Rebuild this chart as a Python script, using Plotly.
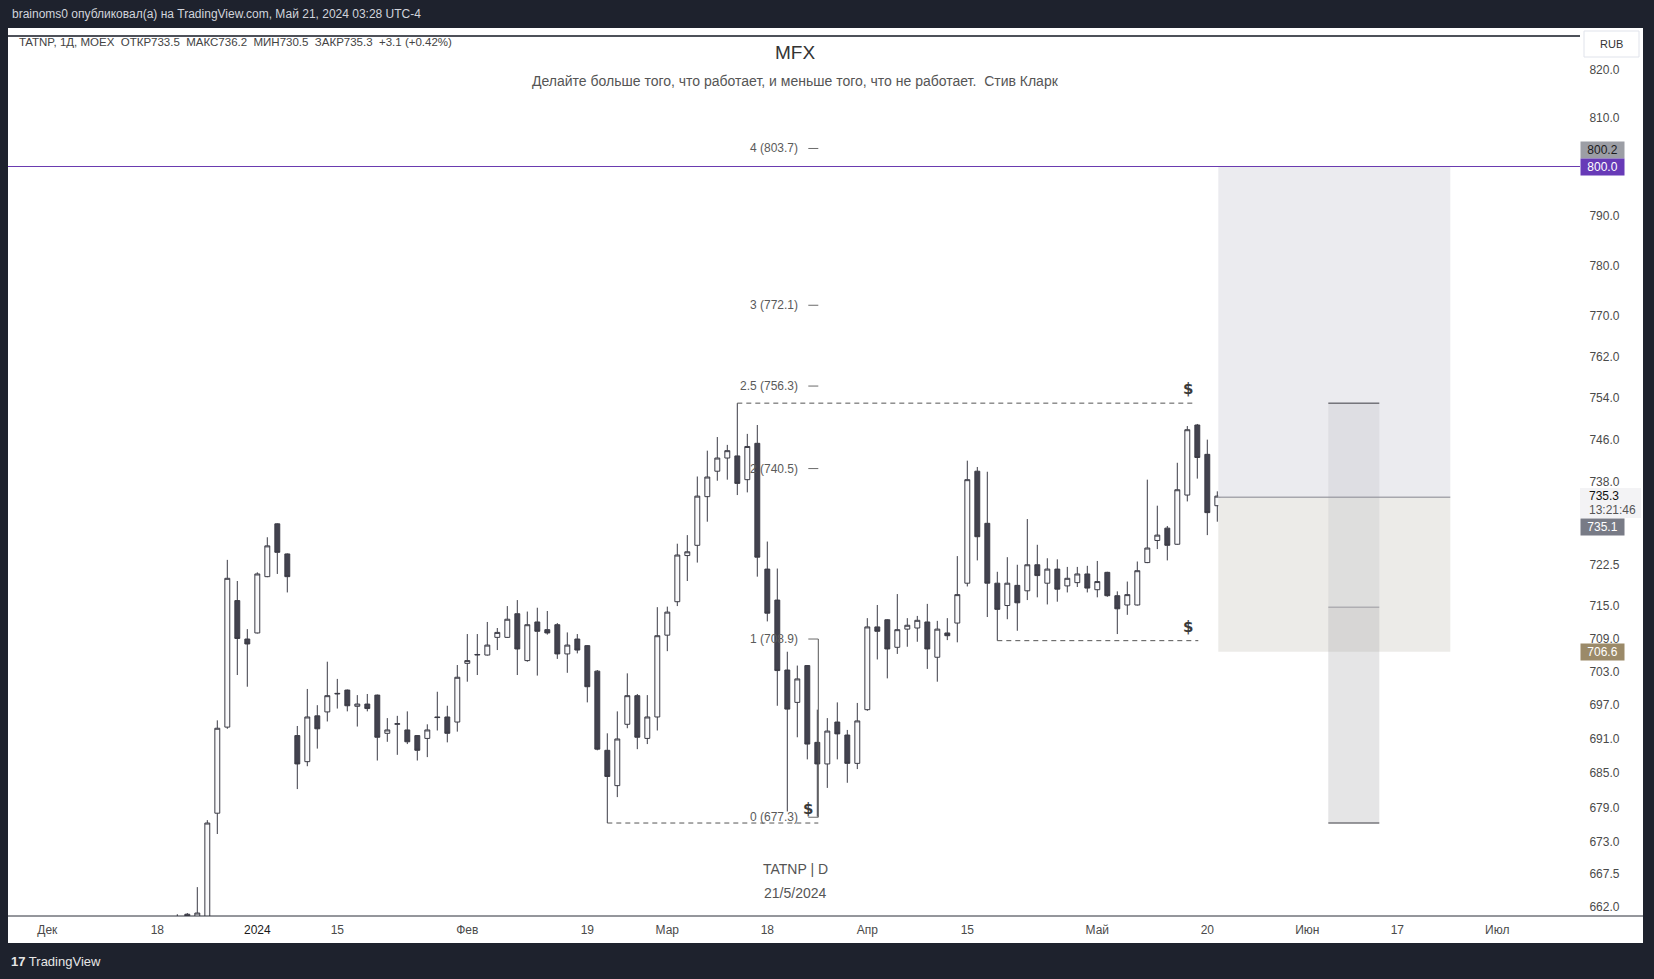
import math
import pandas as pd
import plotly.graph_objects as go

# ---------------- calendar (MOEX sessions, used as bar positions) ----------------
calendar_start = "2023-12-01"
calendar_end = "2024-07-31"
holidays = ["2024-01-01", "2024-01-02", "2024-02-23", "2024-03-08",
            "2024-05-01", "2024-05-09", "2024-06-12"]
extra_sessions = ["2024-04-27"]

first_candle = "2023-12-20"
last_candle = "2024-05-21"

# ---------------- OHLC (TATNP, 1D) ----------------
open_ = [654.0, 660.7, 655.5, 658.0, 678.0, 693.1, 715.9, 708.9, 710.0, 720.3,
         730.1, 724.5, 691.6, 687.0, 695.1, 695.8, 699.0, 699.7, 696.8, 697.2,
         698.8, 692.0, 693.6, 692.6, 691.6, 691.1, 694.9, 694.9, 694.0, 704.5,
         706.0, 706.0, 709.2, 709.2, 713.5, 705.0, 712.0, 710.6, 711.5, 706.2,
         708.9, 707.7, 703.1, 689.0, 682.8, 693.6, 698.7, 691.1, 694.9, 709.6,
         715.7, 724.2, 726.1, 735.2, 740.0, 742.5, 742.9, 738.4, 745.3, 721.7,
         716.0, 703.3, 697.5, 704.1, 690.4, 686.6, 694.0, 691.7, 686.7, 696.2,
         711.1, 712.4, 707.4, 710.7, 710.9, 712.0, 705.6, 710.0, 711.8, 719.1,
         740.0, 730.2, 719.1, 715.0, 718.7, 717.7, 722.5, 719.1, 721.7, 718.6,
         719.2, 720.8, 717.9, 721.1, 716.8, 715.1, 715.1, 722.9, 727.0, 729.3,
         726.3, 735.5, 748.8, 743.2, 733.5]
high = [660.7, 660.9, 665.3, 676.8, 694.3, 723.4, 719.5, 710.7, 721.1, 727.6,
        730.2, 724.6, 693.3, 699.9, 697.0, 704.8, 701.7, 699.8, 698.8, 699.0,
        698.9, 694.7, 695.1, 695.9, 691.7, 693.6, 699.4, 696.9, 704.2, 709.8,
        709.8, 712.0, 710.9, 714.9, 716.0, 713.9, 714.6, 714.0, 711.8, 710.1,
        709.8, 707.8, 703.3, 692.0, 695.9, 702.7, 699.0, 698.8, 714.7, 714.8,
        726.4, 728.0, 739.0, 743.9, 746.5, 745.0, 753.0, 747.1, 748.8, 726.8,
        721.8, 706.6, 704.1, 704.2, 696.2, 694.7, 697.5, 692.6, 697.4, 712.7,
        715.1, 712.5, 717.1, 712.7, 713.1, 715.3, 712.2, 712.7, 724.1, 742.0,
        740.8, 739.9, 721.2, 723.9, 722.5, 731.0, 726.2, 723.7, 723.5, 722.1,
        722.1, 722.3, 723.2, 721.2, 717.6, 719.4, 723.1, 738.4, 733.5, 729.7,
        741.6, 748.6, 749.0, 746.0, 736.2]
low = [651.0, 652.0, 654.0, 657.0, 674.4, 692.8, 702.4, 700.3, 709.9, 720.2,
       720.8, 717.4, 682.2, 686.2, 689.3, 694.1, 696.4, 695.9, 693.2, 695.9,
       687.2, 690.5, 688.2, 690.1, 687.2, 687.8, 692.5, 690.4, 692.3, 701.2,
       702.4, 705.9, 706.9, 709.1, 702.4, 704.8, 702.3, 709.7, 705.3, 702.8,
       706.3, 697.5, 689.0, 676.3, 680.8, 692.9, 689.2, 690.1, 692.5, 706.7,
       714.9, 719.5, 722.9, 730.5, 738.2, 738.4, 735.5, 736.0, 720.3, 712.1,
       696.9, 678.3, 691.3, 687.4, 677.4, 682.4, 687.4, 683.3, 685.7, 696.0,
       705.2, 701.8, 706.2, 707.5, 708.4, 703.5, 701.2, 708.7, 708.3, 718.5,
       723.3, 712.9, 708.6, 712.5, 710.4, 716.0, 716.5, 715.2, 715.7, 717.4,
       718.4, 717.4, 716.5, 716.6, 709.8, 713.3, 715.0, 722.8, 725.4, 723.3,
       726.2, 734.3, 738.6, 728.0, 730.5]
close = [656.0, 655.0, 660.9, 676.3, 692.9, 720.0, 709.0, 708.0, 720.8, 726.0,
         724.8, 720.3, 686.6, 694.9, 692.8, 698.7, 699.1, 696.9, 697.2, 696.4,
         691.3, 692.6, 693.7, 690.5, 689.0, 692.6, 694.8, 692.0, 702.0, 705.0,
         706.1, 707.8, 710.1, 712.5, 707.1, 711.5, 710.3, 710.0, 706.2, 707.8,
         706.9, 700.3, 689.2, 684.4, 691.0, 698.7, 691.3, 694.9, 709.5, 713.8,
         724.3, 724.9, 735.3, 738.9, 742.5, 743.9, 737.7, 744.7, 723.9, 713.6,
         703.2, 696.3, 701.7, 690.1, 686.6, 692.4, 691.9, 686.7, 694.2, 711.1,
         710.3, 707.1, 710.6, 711.4, 712.3, 707.1, 710.7, 709.5, 717.0, 738.4,
         727.7, 719.1, 714.3, 719.1, 715.5, 722.5, 720.5, 721.7, 718.0, 720.0,
         720.8, 718.2, 719.4, 716.8, 714.4, 717.0, 721.4, 725.6, 728.0, 726.1,
         736.5, 747.9, 742.6, 732.2, 735.3]

# ---------------- axis ticks ----------------
x_tick_dates = ["2023-12-01", "2023-12-18", "2024-01-03", "2024-01-15", "2024-02-01",
                "2024-02-19", "2024-03-01", "2024-03-18", "2024-04-01", "2024-04-15",
                "2024-05-02", "2024-05-20", "2024-06-03", "2024-06-17", "2024-07-01"]
x_tick_labels = ["Дек", "18", "2024", "15", "Фев", "19", "Мар", "18", "Апр", "15",
                 "Май", "20", "Июн", "17", "Июл"]
y_tick_values = [820.0, 810.0, 790.0, 780.0, 770.0, 762.0, 754.0, 746.0, 738.0, 722.5,
                 715.0, 709.0, 703.0, 697.0, 691.0, 685.0, 679.0, 673.0, 667.5, 662.0]

# ---------------- drawings ----------------
fib_levels = ["0", "1", "2", "2.5", "3", "4"]
fib_prices = [677.3, 708.9, 740.5, 756.3, 772.1, 803.7]
hline_price = 800.0
target_price, entry_price, stop_price = 800.0, 735.1, 706.6
liq_high_price = 753.0
liq_low_left_price = 676.3
liq_low_right_price = 708.6
range_top, range_mid, range_bot = 753.0, 714.7, 676.3

legend_text = "TATNP, 1Д, MOEX  ОТКР733.5  МАКС736.2  МИН730.5  ЗАКР735.3  +3.1 (+0.42%)"
header_text = "brainoms0 опубликовал(а) на TradingView.com, Май 21, 2024 03:28 UTC-4"
title_text = "MFX"
quote_text = "Делайте больше того, что работает, и меньше того, что не работает.  Стив Кларк"

# ---------------- build ----------------
cal = pd.bdate_range(calendar_start, calendar_end)
cal = cal[~cal.isin(pd.to_datetime(holidays))]
cal = cal.append(pd.DatetimeIndex(pd.to_datetime(extra_sessions))).sort_values()
cal_list = list(cal)


def pos(d):
    return cal_list.index(pd.Timestamp(d))


candle_days = [d for d in cal_list if pd.Timestamp(first_candle) <= d <= pd.Timestamp(last_candle)]
assert len(candle_days) == len(open_) == len(high) == len(low) == len(close)
x_c = [pos(d) for d in candle_days]

W, H = 1654, 979
L, R, T, B = 8, 74, 28, 63
PW, PH = W - L - R, H - T - B
FONT = "Liberation Sans"

x_lo = pos("2023-12-18") - 14.93
x_hi = x_lo + PW / 10.0
y_lo, y_hi = math.log10(660.4), math.log10(828.86)


def px(x):
    return (x - L) / PW


def py(y):
    return (H - B - y) / PH


fig = go.Figure()


def seg(x0, x1, y0, y1, color, width=1.0, dash=None):
    fig.add_trace(go.Scatter(x=[x0, x1], y=[y0, y1], mode="lines",
                             line=dict(color=color, width=width, dash=dash),
                             hoverinfo="skip", showlegend=False))


def box(x0, x1, y0, y1, fill):
    fig.add_trace(go.Scatter(x=[x0, x1, x1, x0, x0], y=[y0, y0, y1, y1, y0], mode="lines",
                             fill="toself", fillcolor=fill, line=dict(width=0),
                             hoverinfo="skip", showlegend=False))


# long position tool
lp_x0 = pos(last_candle) + 0.1
lp_x1 = pos("2024-06-24") + 0.3
box(lp_x0, lp_x1, entry_price, target_price, "#ebebef")
box(lp_x0, lp_x1, stop_price, entry_price, "#ecebe8")
seg(lp_x0, lp_x1, entry_price, entry_price, "#85858f", 1)

# narrow range tool
nr_x0 = pos("2024-06-05") + 0.1
nr_x1 = pos("2024-06-13") + 0.2
box(nr_x0, nr_x1, range_mid, range_top, "rgba(150,150,160,0.15)")
box(nr_x0, nr_x1, range_bot, range_mid, "rgba(150,150,155,0.25)")
seg(nr_x0, nr_x1, range_top, range_top, "#3a3a40", 1)
seg(nr_x0, nr_x1, range_mid, range_mid, "#9a9aa0", 1)
seg(nr_x0, nr_x1, range_bot, range_bot, "#3a3a40", 1)

# horizontal line 800
seg(x_lo, x_hi, hline_price, hline_price, "#6a3bb0", 1)

# liquidity dashed lines
dash = "5px,4px"
seg(pos("2024-03-13"), pos("2024-05-16") + 0.8, liq_high_price, liq_high_price, "#555", 1, dash)
seg(pos("2024-02-21"), pos("2024-03-25") + 0.1, liq_low_left_price, liq_low_left_price, "#555", 1, dash)
seg(pos("2024-04-18"), pos("2024-05-17") + 0.1, liq_low_right_price, liq_low_right_price, "#555", 1, dash)

# fib extension
fib_x0 = pos("2024-03-22") + 0.1
fib_x1 = pos("2024-03-25") + 0.1
for p in fib_prices:
    seg(fib_x0, fib_x1, p, p, "#6b6b6b", 1)
seg(fib_x1, fib_x1, fib_prices[0], fib_prices[1], "#555", 1)

# candles
fig.add_trace(go.Candlestick(
    x=x_c, open=open_, high=high, low=low, close=close,
    increasing=dict(line=dict(color="#3b3b45", width=1), fillcolor="#f9f9fb"),
    decreasing=dict(line=dict(color="#3b3b45", width=1), fillcolor="#42424e"),
    whiskerwidth=0, showlegend=False, hoverinfo="skip"))

ann = []
for lvl, p in zip(fib_levels, fib_prices):
    ann.append(dict(x=fib_x0, y=math.log10(p), xref="x", yref="y", xanchor="right", yanchor="middle",
                    xshift=-8, text=f"{lvl} ({p:.1f})", showarrow=False,
                    font=dict(family=FONT, size=12, color="#5a5a5a")))

for xx, pp in [(pos("2024-05-16") + 0.1, liq_high_price), (pos("2024-05-16") + 0.1, liq_low_right_price),
               (pos("2024-03-22") + 0.1, liq_low_left_price)]:
    ann.append(dict(x=xx, y=math.log10(pp), xref="x", yref="y", xanchor="center", yanchor="bottom",
                    yshift=3, text="<b>$</b>", showarrow=False,
                    font=dict(family="DejaVu Sans", size=15, color="#3a3a3a")))


# right price-scale labels
def price_tag(val, txt, bg, fg, yshift=0):
    ann.append(dict(x=1, xref="paper", y=math.log10(val), yref="y", xanchor="left", yanchor="middle",
                    yshift=yshift, text=txt, showarrow=False, bgcolor=bg, width=43, height=16,
                    borderpad=0, align="center", font=dict(family=FONT, size=12, color=fg)))


price_tag(800.2, "800.2", "#9c9ea5", "#1c1c1c", 16)
price_tag(target_price, f"{target_price:.1f}", "#673ab7", "#ffffff")
price_tag(entry_price, f"{entry_price:.1f}", "#787b86", "#ffffff", -30)
price_tag(stop_price, f"{stop_price:.1f}", "#9b8a69", "#ffffff")
ann.append(dict(x=1, xref="paper", y=math.log10(close[-1]), yref="y", xanchor="left", yanchor="middle",
                xshift=7, text=f"{close[-1]:.1f}", showarrow=False,
                font=dict(family=FONT, size=12, color="#111111")))
ann.append(dict(x=1, xref="paper", y=math.log10(close[-1]), yref="y", xanchor="left", yanchor="middle",
                xshift=7, yshift=-14, text="13:21:46", showarrow=False,
                font=dict(family=FONT, size=12, color="#555555")))

# texts on the page
ann += [
    dict(x=px(10), y=py(14), xref="paper", yref="paper", xanchor="left", yanchor="middle",
         text=header_text, showarrow=False, font=dict(family=FONT, size=12, color="#d1d4dc")),
    dict(x=px(17), y=py(42), xref="paper", yref="paper", xanchor="left", yanchor="middle",
         text=legend_text, showarrow=False, font=dict(family=FONT, size=11.5, color="#444444")),
    dict(x=px(795), y=py(53), xref="paper", yref="paper", xanchor="center", yanchor="middle",
         text=title_text, showarrow=False, font=dict(family=FONT, size=19, color="#333333")),
    dict(x=px(795), y=py(81), xref="paper", yref="paper", xanchor="center", yanchor="middle",
         text=quote_text, showarrow=False, font=dict(family=FONT, size=14, color="#555555")),
    dict(x=px(795), y=py(869), xref="paper", yref="paper", xanchor="center", yanchor="middle",
         text="TATNP | D", showarrow=False, font=dict(family=FONT, size=14, color="#555555")),
    dict(x=px(795), y=py(893), xref="paper", yref="paper", xanchor="center", yanchor="middle",
         text="21/5/2024", showarrow=False, font=dict(family=FONT, size=14, color="#555555")),
    dict(x=px(1611), y=py(44), xref="paper", yref="paper", xanchor="center", yanchor="middle",
         text="RUB", showarrow=False, font=dict(family=FONT, size=11, color="#333333")),
    dict(x=px(9), y=py(961), xref="paper", yref="paper", xanchor="left", yanchor="middle",
         text="<b>17</b> TradingView", showarrow=False, font=dict(family=FONT, size=13, color="#e6e6e6")),
]

shapes = [
    dict(type="rect", xref="paper", yref="paper", x0=px(8), x1=px(1643), y0=py(943), y1=py(28),
         fillcolor="#ffffff", line=dict(width=0), layer="below"),
    dict(type="rect", xref="paper", yref="paper", x0=px(1580), x1=px(1641), y0=py(518), y1=py(488),
         fillcolor="#f3f3f5", line=dict(width=0), layer="below"),
    dict(type="line", xref="paper", yref="paper", x0=px(8), x1=px(1580), y0=py(36), y1=py(36),
         line=dict(color="#131722", width=1.5)),
    dict(type="line", xref="paper", yref="paper", x0=px(8), x1=px(1643), y0=py(916), y1=py(916),
         line=dict(color="#2a2e39", width=1)),
    dict(type="rect", xref="paper", yref="paper", x0=px(1584), x1=px(1639), y0=py(57), y1=py(31),
         fillcolor="#ffffff", line=dict(color="#e0e3eb", width=1)),
]

tick_text = [f"<span style='color:#1a1a1a'>{t}</span>" if t == "2024" else t for t in x_tick_labels]

fig.update_layout(
    width=W, height=H,
    margin=dict(l=L, r=R, t=T, b=B, pad=0),
    paper_bgcolor="#1e222d", plot_bgcolor="#ffffff",
    showlegend=False, hovermode=False,
    annotations=ann, shapes=shapes,
    xaxis=dict(range=[x_lo, x_hi], tickmode="array", tickvals=[pos(d) for d in x_tick_dates],
               ticktext=tick_text, showgrid=False, zeroline=False, showline=False,
               ticks="outside", ticklen=3, tickcolor="rgba(0,0,0,0)",
               tickfont=dict(family=FONT, size=12, color="#4a4a4a"),
               rangeslider=dict(visible=False)),
    yaxis=dict(type="log", range=[y_lo, y_hi], side="right", tickmode="array",
               tickvals=y_tick_values, ticktext=[f"{v:.1f}" for v in y_tick_values],
               showgrid=False, zeroline=False, showline=False,
               ticks="outside", ticklen=6, tickcolor="rgba(0,0,0,0)",
               tickfont=dict(family=FONT, size=12, color="#4a4a4a")),
)

fig.write_html(
    "out.html",
    config={"displayModeBar": False},
    post_script="document.body.style.margin='0';document.body.style.padding='0';"
                "document.body.style.background='#1e222d';document.body.style.overflow='hidden';",
)
